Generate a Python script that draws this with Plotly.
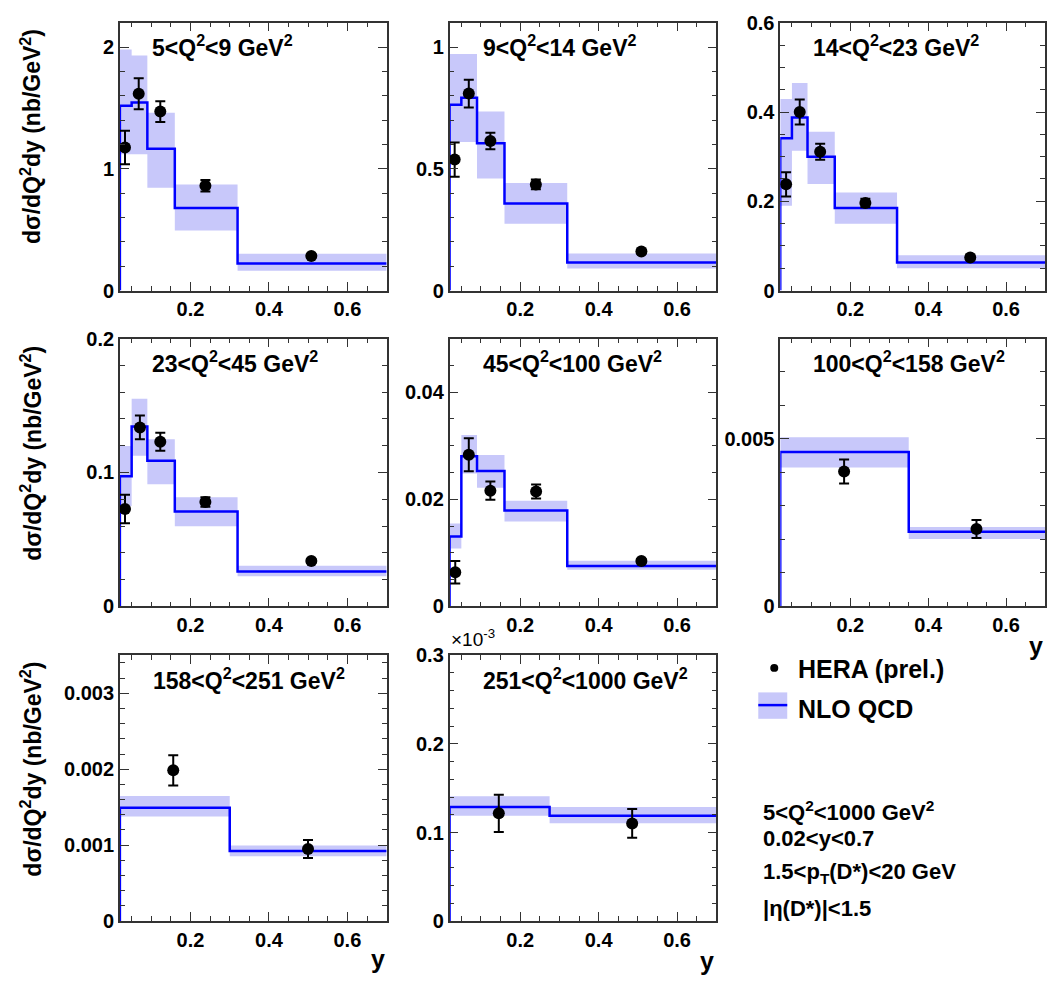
import plotly.graph_objects as go

W, H = 1047, 983

# ---------------- data ----------------
panel_labels = ["5<Q<sup>2</sup><9 GeV<sup>2</sup>", "9<Q<sup>2</sup><14 GeV<sup>2</sup>",
                "14<Q<sup>2</sup><23 GeV<sup>2</sup>", "23<Q<sup>2</sup><45 GeV<sup>2</sup>",
                "45<Q<sup>2</sup><100 GeV<sup>2</sup>", "100<Q<sup>2</sup><158 GeV<sup>2</sup>",
                "158<Q<sup>2</sup><251 GeV<sup>2</sup>", "251<Q<sup>2</sup><1000 GeV<sup>2</sup>"]

edges_low_q2 = [0.02, 0.05, 0.09, 0.16, 0.32, 0.7]
edges_p6 = [0.02, 0.35, 0.7]
edges_p7 = [0.02, 0.30, 0.7]
edges_p8 = [0.02, 0.275, 0.7]

# panel 1
nlo_1 = [1.518, 1.545, 1.164, 0.678, 0.223]
nlo_up_1 = [1.98, 1.93, 1.46, 0.872, 0.303]
nlo_lo_1 = [1.12, 1.12, 0.845, 0.493, 0.163]
dat_x_1 = [0.033, 0.068, 0.123, 0.238, 0.508]
dat_y_1 = [1.175, 1.617, 1.47, 0.861, 0.284]
dat_e_1 = [0.137, 0.127, 0.085, 0.047, 0.015]
# panel 2
nlo_2 = [0.763, 0.792, 0.605, 0.358, 0.115]
nlo_up_2 = [0.972, 0.972, 0.735, 0.442, 0.152]
nlo_lo_2 = [0.61, 0.61, 0.46, 0.275, 0.091]
dat_x_2 = [0.033, 0.069, 0.124, 0.240, 0.509]
dat_y_2 = [0.538, 0.809, 0.614, 0.436, 0.161]
dat_e_2 = [0.070, 0.057, 0.034, 0.020, 0.008]
# panel 3
nlo_3 = [0.341, 0.388, 0.300, 0.185, 0.063]
nlo_up_3 = [0.429, 0.465, 0.356, 0.220, 0.079]
nlo_lo_3 = [0.19, 0.313, 0.239, 0.150, 0.050]
dat_x_3 = [0.035, 0.070, 0.1225, 0.2386, 0.508]
dat_y_3 = [0.238, 0.400, 0.311, 0.196, 0.074]
dat_e_3 = [0.027, 0.028, 0.018, 0.0095, 0.004]
# panel 4
nlo_4 = [0.0971, 0.1343, 0.1088, 0.0708, 0.0260]
nlo_up_4 = [0.1197, 0.155, 0.1248, 0.0815, 0.0304]
nlo_lo_4 = [0.075, 0.1124, 0.0912, 0.0599, 0.0224]
dat_x_4 = [0.033, 0.071, 0.123, 0.238, 0.508]
dat_y_4 = [0.0727, 0.1336, 0.1229, 0.0779, 0.0338]
dat_e_4 = [0.0106, 0.0089, 0.0067, 0.0036, 0.0015]
# panel 5
nlo_5 = [0.01303, 0.0280, 0.02527, 0.0179, 0.00755]
nlo_up_5 = [0.01546, 0.0320, 0.02825, 0.0197, 0.00852]
nlo_lo_5 = [0.01078, 0.0248, 0.02216, 0.01583, 0.00682]
dat_x_5 = [0.0345, 0.069, 0.124, 0.2406, 0.509]
dat_y_5 = [0.00639, 0.0283, 0.0216, 0.02143, 0.00846]
dat_e_5 = [0.0021, 0.0031, 0.0017, 0.0013, 0.0004]
# panel 6
nlo_6 = [0.00461, 0.00223]
nlo_up_6 = [0.00505, 0.00237]
nlo_lo_6 = [0.00415, 0.00201]
dat_x_6 = [0.184, 0.524]
dat_y_6 = [0.00403, 0.00231]
dat_e_6 = [0.00036, 0.00027]
# panel 7
nlo_7 = [0.001494, 0.000922]
nlo_up_7 = [0.001648, 0.000995]
nlo_lo_7 = [0.001379, 0.000854]
dat_x_7 = [0.156, 0.4996]
dat_y_7 = [0.001985, 0.000951]
dat_e_7 = [0.0002, 0.000118]
# panel 8
nlo_8 = [0.0001287, 0.0001188]
nlo_up_8 = [0.0001408, 0.0001287]
nlo_lo_8 = [0.0001188, 0.0001106]
dat_x_8 = [0.1455, 0.4855]
dat_y_8 = [0.0001217, 0.0001103]
dat_e_8 = [0.0000210, 0.0000162]

y_ranges = [2.2, 1.1, 0.6, 0.2, 0.05, 0.008, 0.0035, 0.0003]
y_dticks = [1, 0.5, 0.2, 0.1, 0.02, 0.005, 0.001, 0.0001]
y_minor = [0.2, 0.1, 0.05, 0.02, 0.005, 0.001, 0.0002, 0.00002]
p8_tickvals = [0, 0.0001, 0.0002, 0.0003]
p8_ticktext = ["0", "0.1", "0.2", "0.3"]

legend_text = ["5<Q<sup>2</sup><1000 GeV<sup>2</sup>", "0.02<y<0.7",
               "1.5<p<sub>T</sub>(D*)<20 GeV", "|η(D*)|<1.5"]

panels = [
    (edges_low_q2, nlo_1, nlo_up_1, nlo_lo_1, dat_x_1, dat_y_1, dat_e_1),
    (edges_low_q2, nlo_2, nlo_up_2, nlo_lo_2, dat_x_2, dat_y_2, dat_e_2),
    (edges_low_q2, nlo_3, nlo_up_3, nlo_lo_3, dat_x_3, dat_y_3, dat_e_3),
    (edges_low_q2, nlo_4, nlo_up_4, nlo_lo_4, dat_x_4, dat_y_4, dat_e_4),
    (edges_low_q2, nlo_5, nlo_up_5, nlo_lo_5, dat_x_5, dat_y_5, dat_e_5),
    (edges_p6, nlo_6, nlo_up_6, nlo_lo_6, dat_x_6, dat_y_6, dat_e_6),
    (edges_p7, nlo_7, nlo_up_7, nlo_lo_7, dat_x_7, dat_y_7, dat_e_7),
    (edges_p8, nlo_8, nlo_up_8, nlo_lo_8, dat_x_8, dat_y_8, dat_e_8),
]

# ---------------- layout geometry (pixels) ----------------
col_px = [(120, 387), (450, 717), (781, 1046)]
row_px = [(12, 286), (335, 609), (659, 931)]

def px(x):
    return x / W

def py(y):
    return 1 - y / H

BAND = "rgba(200,200,250,1)"
LINE = "#0000ff"
FONT = "Liberation Sans, Arial, sans-serif"

fig = go.Figure()
layout = dict(width=W, height=H, margin=dict(l=0, r=0, t=0, b=0),
              paper_bgcolor="white", plot_bgcolor="white", showlegend=False)

for i, (edges, nlo, up, lo, dx, dy, de) in enumerate(panels):
    r, c = divmod(i, 3)
    xa = "x" if i == 0 else f"x{i+1}"
    ya = "y" if i == 0 else f"y{i+1}"
    # band rectangles
    bx, by = [], []
    for k in range(len(nlo)):
        bx += [edges[k], edges[k+1], edges[k+1], edges[k], edges[k], None]
        by += [lo[k], lo[k], up[k], up[k], lo[k], None]
    fig.add_trace(go.Scatter(x=bx, y=by, fill="toself", fillcolor=BAND, mode="none",
                             xaxis=xa, yaxis=ya, hoverinfo="skip"))
    # step line
    sx = [edges[0]] + list(edges[:-1]) + [edges[-1]]
    sy = [0] + list(nlo) + [nlo[-1]]
    fig.add_trace(go.Scatter(x=sx, y=sy, mode="lines", line=dict(color=LINE, width=2.5, shape="hv"),
                             xaxis=xa, yaxis=ya))
    # data
    fig.add_trace(go.Scatter(x=dx, y=dy, mode="markers",
                             marker=dict(color="black", size=12),
                             error_y=dict(type="data", array=de, color="black", thickness=2, width=5),
                             xaxis=xa, yaxis=ya))
    x0, x1 = col_px[c]
    y0, y1 = row_px[r]
    xkey = "xaxis" if i == 0 else f"xaxis{i+1}"
    ykey = "yaxis" if i == 0 else f"yaxis{i+1}"
    layout[xkey] = dict(domain=[px(x0), px(x1)], anchor=ya, range=[0.02, 0.7],
                        tick0=0, dtick=0.2, ticks="inside", ticklen=9, tickwidth=1.3,
                        tickcolor="#333", showline=True, linecolor="#333", linewidth=1.5,
                        mirror="allticks", showgrid=False, zeroline=False,
                        tickfont=dict(family=FONT, size=20, color="black", weight="bold"),
                        minor=dict(dtick=0.05, tick0=0, ticks="inside", ticklen=5,
                                   tickcolor="#333", showgrid=False))
    yd = dict(domain=[py(y1), py(y0)], anchor=xa, range=[0, y_ranges[i]],
              tick0=0, dtick=y_dticks[i], ticks="inside", ticklen=9, tickwidth=1.3,
              tickcolor="#333", showline=True, linecolor="#333", linewidth=1.5,
              mirror="allticks", showgrid=False, zeroline=False,
              tickfont=dict(family=FONT, size=20, color="black", weight="bold"),
              minor=dict(dtick=y_minor[i], tick0=0, ticks="inside", ticklen=5,
                         tickcolor="#333", showgrid=False))
    if i == 7:
        yd["tickvals"] = p8_tickvals
        yd["ticktext"] = p8_ticktext
        yd["tickmode"] = "array"
    layout[ykey] = yd

fig.update_layout(**layout)

ann = []
label_pos = [(150, 36), (481, 36), (812, 36), (150, 359), (481, 359), (812, 359), (151, 683), (481, 683)]
for i, (lx, ly) in enumerate(label_pos):
    ann.append(dict(x=px(lx), y=py(ly), xref="paper", yref="paper", xanchor="left", yanchor="middle",
                    text=f"<b>{panel_labels[i]}</b>", showarrow=False,
                    font=dict(family=FONT, size=23, color="black")))

# y axis titles
for ty in [16, 340, 663]:
    ann.append(dict(x=px(31), y=py(ty), xref="paper", yref="paper", xanchor="center", yanchor="top",
                    text="<b>dσ/dQ<sup>2</sup>dy (nb/GeV<sup>2</sup>)</b>", textangle=-90, showarrow=False,
                    font=dict(family=FONT, size=23, color="black")))

# x axis titles
for (tx, ty) in [(1037, 650), (378, 970), (708, 972)]:
    ann.append(dict(x=px(tx), y=py(ty), xref="paper", yref="paper", xanchor="center", yanchor="middle",
                    text="<b>y</b>", showarrow=False, font=dict(family=FONT, size=25, color="black")))

# x10^-3
ann.append(dict(x=px(449), y=py(656), xref="paper", yref="paper", xanchor="left", yanchor="bottom",
                text="×10<sup>-3</sup>", showarrow=False, font=dict(family=FONT, size=19, color="black")))

# legend
ann.append(dict(x=px(797), y=py(673), xref="paper", yref="paper", xanchor="left", yanchor="middle",
                text="<b>HERA (prel.)</b>", showarrow=False, font=dict(family=FONT, size=25, color="black")))
ann.append(dict(x=px(797), y=py(714), xref="paper", yref="paper", xanchor="left", yanchor="middle",
                text="<b>NLO QCD</b>", showarrow=False, font=dict(family=FONT, size=25, color="black")))
for t, ly in zip(legend_text, [818, 846, 882, 918]):
    ann.append(dict(x=px(762), y=py(ly), xref="paper", yref="paper", xanchor="left", yanchor="middle",
                    text=f"<b>{t}</b>", showarrow=False, font=dict(family=FONT, size=22, color="black")))

shapes = [
    dict(type="rect", xref="paper", yref="paper", x0=px(759), x1=px(788), y0=py(724), y1=py(697),
         fillcolor=BAND, line=dict(width=0)),
    dict(type="line", xref="paper", yref="paper", x0=px(759), x1=px(788), y0=py(710), y1=py(710),
         line=dict(color=LINE, width=2.5)),
    dict(type="circle", xref="paper", yref="paper", x0=px(771), x1=px(779), y0=py(676), y1=py(668),
         fillcolor="black", line=dict(width=0)),
]
fig.update_layout(annotations=ann, shapes=shapes)

fig.write_html("out.html")
